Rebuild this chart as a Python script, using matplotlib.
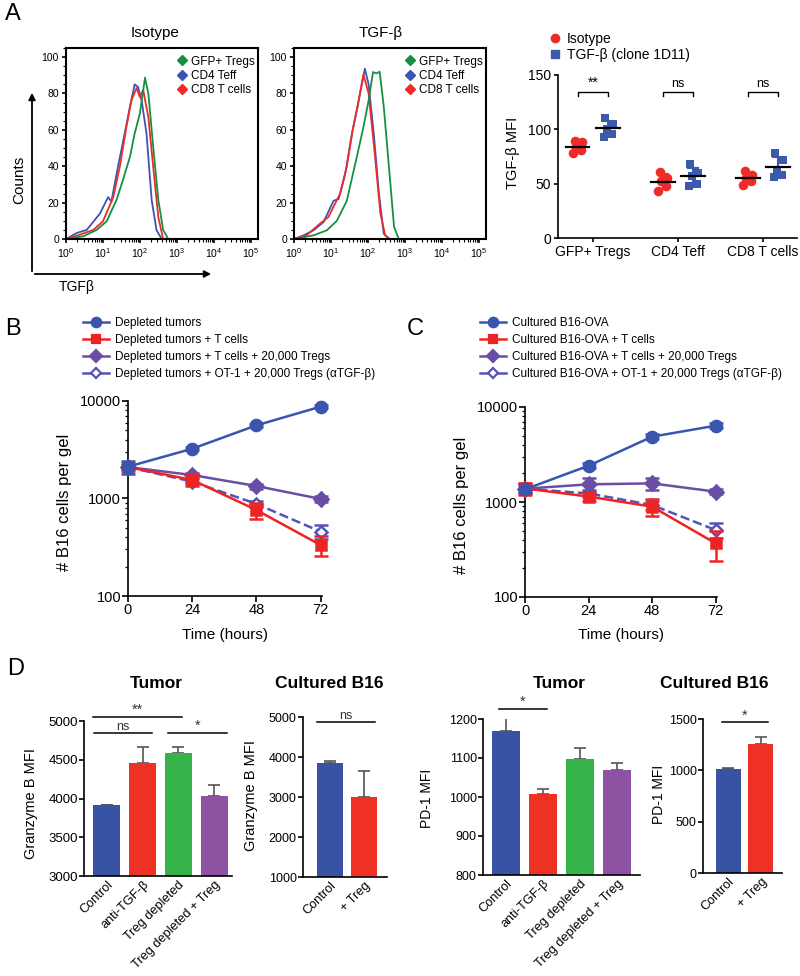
import numpy as np
import matplotlib.pyplot as plt
from matplotlib.lines import Line2D
from matplotlib.patches import FancyArrowPatch
from matplotlib.ticker import LogLocator, MultipleLocator, NullFormatter

plt.rcParams['font.family'] = ['Liberation Sans', 'DejaVu Sans']
plt.rcParams['mathtext.fontset'] = 'custom'
plt.rcParams['mathtext.rm'] = 'Liberation Sans'
plt.rcParams['mathtext.it'] = 'Liberation Sans:italic'
plt.rcParams['axes.linewidth'] = 1.2

# ---------------- data ----------------
# A: TGF-b histograms, x = log10(intensity), y = counts
iso_gfp_x = [0, 0.47, 0.83, 1.1, 1.37, 1.55, 1.73, 1.86, 2.0, 2.14, 2.23, 2.36, 2.5, 2.63, 2.77, 5.2]
iso_gfp_y = [0, 1.5, 5, 9.7, 21.5, 33, 45, 58, 69, 88.7, 80, 51, 21.5, 5, 0, 0]
iso_cd4_x = [0, 0.29, 0.56, 0.92, 1.14, 1.23, 1.41, 1.59, 1.73, 1.86, 1.95, 2.05, 2.18, 2.32, 2.45, 2.59, 5.2]
iso_cd4_y = [0, 3.3, 5, 14, 23, 20.6, 40, 58, 72.6, 85, 83.6, 76, 58, 21.5, 5, 0, 0]
iso_cd8_x = [0, 0, 0.38, 0.74, 1.0, 1.28, 1.46, 1.64, 1.77, 1.91, 2.0, 2.09, 2.23, 2.36, 2.5, 2.63, 5.2]
iso_cd8_y = [100, 0, 2.4, 5, 9.7, 23, 40, 62, 76, 83, 78, 82, 67, 40, 12, 0, 0]

tgf_gfp_x = [0, 0.53, 0.89, 1.16, 1.43, 1.7, 1.88, 2.02, 2.14, 2.23, 2.32, 2.43, 2.57, 2.71, 2.84, 5.2]
tgf_gfp_y = [0, 2, 4.8, 10, 21, 45, 61.5, 76, 91.8, 91, 92, 73, 40, 6.6, 0, 0]
tgf_cd4_x = [0, 0.26, 0.53, 0.8, 1.07, 1.21, 1.39, 1.57, 1.75, 1.92, 2.02, 2.16, 2.3, 2.43, 2.57, 5.2]
tgf_cd4_y = [0, 2, 4.8, 9.3, 21, 22, 36, 58, 76, 93.6, 85, 58, 25, 3, 0, 0]
tgf_cd8_x = [0, 0, 0.34, 0.7, 0.93, 1.11, 1.25, 1.43, 1.59, 1.72, 1.88, 2.02, 2.17, 2.34, 2.47, 2.6, 5.2]
tgf_cd8_y = [100, 0, 2, 8.4, 12, 19.4, 25, 40, 60, 72.5, 90.5, 80, 50.5, 14, 2, 0, 0]

hist_labels = ['GFP+ Tregs', 'CD4 Teff', 'CD8 T cells']

# A: TGF-b MFI per mouse
mfi_groups = ['GFP+ Tregs', 'CD4 Teff', 'CD8 T cells']
iso_mfi = [[78, 81, 84, 88, 89], [43, 48, 52, 55, 61], [49, 52, 55, 58, 62]]
tgfb_mfi = [[93, 96, 100, 105, 110], [48, 50, 57, 60, 68], [56, 58, 63, 72, 78]]
mfi_sig = ['**', 'ns', 'ns']

# B / C: B16 cells per gel over time
time_h = [0, 24, 48, 72]
b_labels = ['Depleted tumors', 'Depleted tumors + T cells',
            'Depleted tumors + T cells + 20,000 Tregs',
            'Depleted tumors + OT-1 + 20,000 Tregs (\u03b1TGF-\u03b2)']
b_means = [[2120, 3240, 5630, 8750], [2100, 1550, 762, 333],
           [2100, 1740, 1343, 990], [2100, 1490, 880, 457]]
b_errs = [[330, 120, 200, 300], [200, 220, 140, 75],
          [100, 100, 80, 60], [100, 80, 70, 75]]
c_labels = ['Cultured B16-OVA', 'Cultured B16-OVA + T cells',
            'Cultured B16-OVA + T cells + 20,000 Tregs',
            'Cultured B16-OVA + OT-1 + 20,000 Tregs (\u03b1TGF-\u03b2)']
c_means = [[1360, 2410, 4870, 6360], [1390, 1140, 893, 367],
           [1380, 1535, 1570, 1285], [1380, 1230, 930, 507]]
c_errs = [[100, 150, 300, 400], [200, 120, 180, 130],
          [150, 250, 220, 80], [150, 100, 100, 90]]

# D: bar charts
tumor_groups = ['Control', 'anti-TGF-\u03b2', 'Treg depleted', 'Treg depleted + Treg']
cult_groups = ['Control', '+ Treg']
gzmb_tumor = [3915, 4460, 4583, 4035]
gzmb_tumor_err = [5, 205, 85, 135]
gzmb_cult = [3860, 3000]
gzmb_cult_err = [30, 640]
pd1_tumor = [1168, 1008, 1098, 1068]
pd1_tumor_err = [42, 12, 27, 20]
pd1_cult = [1013, 1259]
pd1_cult_err = [5, 66]

# ---------------- styles ----------------
GREEN_H = '#16903e'
BLUE_H = '#3b55b4'
RED_H = '#ee2b26'
BLUE = '#3a55b0'
RED = '#ee2424'
PURPLE = '#6a4ea5'
PURPLE2 = '#5653b8'
BAR_COLS = ['#3953a4', '#ee3124', '#36b44a', '#8d52a1']

W, H = 800, 976
fig = plt.figure(figsize=(W / 100, H / 100), dpi=100)


def box(x0, y0, x1, y1):
    # pixel box, origin top-left -> figure fraction rect
    return [x0 / W, 1 - y1 / H, (x1 - x0) / W, (y1 - y0) / H]


def fxy(x, y):
    return x / W, 1 - y / H


def ftext(x, y, s, **kw):
    fig.text(*fxy(x, y), s, ha=kw.pop('ha', 'center'), va=kw.pop('va', 'center'), **kw)


# ---------------- A: histograms ----------------
def hist_panel(rect, curves):
    ax = fig.add_axes(rect)
    for xs, ys, col in curves:
        ax.plot(10 ** np.array(xs, dtype=float), ys, color=col, lw=1.3)
    ax.set_xscale('log')
    ax.set_xlim(1, 10 ** 5.2)
    ax.set_ylim(0, 105)
    ax.set_yticks([0, 20, 40, 60, 80, 100])
    ax.yaxis.set_minor_locator(MultipleLocator(5))
    ax.set_xticks([10 ** k for k in range(6)])
    ax.set_xticklabels([f'$10^{{{k}}}$' for k in range(6)])
    ax.xaxis.set_minor_locator(LogLocator(base=10, subs=np.arange(2, 10)))
    ax.xaxis.set_minor_formatter(NullFormatter())
    ax.tick_params(labelsize=7.5, length=3, width=1.2, pad=2)
    ax.tick_params(which='minor', length=2, width=0.8)
    for sp in ax.spines.values():
        sp.set_linewidth(1.5)
    hands = [Line2D([], [], marker='D', ls='none', color=c, markersize=5.5)
             for c in [GREEN_H, BLUE_H, RED_H]]
    ax.legend(hands, hist_labels, loc='upper left', bbox_to_anchor=(0.555, 0.985),
              frameon=False, fontsize=8.5, handlelength=0.8, handletextpad=0.4,
              labelspacing=0.2, borderaxespad=0)
    return ax


hist_panel(box(66, 48, 258, 239), [(iso_cd4_x, iso_cd4_y, BLUE_H), (iso_cd8_x, iso_cd8_y, RED_H),
                                   (iso_gfp_x, iso_gfp_y, GREEN_H)])
hist_panel(box(294, 48, 486, 239), [(tgf_cd4_x, tgf_cd4_y, BLUE_H), (tgf_cd8_x, tgf_cd8_y, RED_H),
                                    (tgf_gfp_x, tgf_gfp_y, GREEN_H)])
ftext(155, 33, 'Isotype', fontsize=11)
ftext(381, 33, 'TGF-\u03b2', fontsize=11)
ftext(13, 14, 'A', fontsize=17)
ftext(19, 180, 'Counts', fontsize=11, rotation=90)
ftext(77, 287, 'TGF\u03b2', fontsize=10)
for tail, head in [((32, 274), (32, 90)), ((32, 274), (214, 274))]:
    fig.add_artist(FancyArrowPatch(fxy(*tail), fxy(*head), transform=fig.transFigure,
                                   arrowstyle='-|>', mutation_scale=10, lw=1.3, color='k'))

# ---------------- A: TGF-b MFI scatter ----------------
ax = fig.add_axes(box(558, 75, 797, 238))
jit = np.array([-0.05, 0.04, -0.015, 0.055, -0.035])
for i in range(len(mfi_groups)):
    for vals, off, col, mk in [(iso_mfi[i], -0.18, RED_H, 'o'), (tgfb_mfi[i], 0.18, '#3b5aab', 's')]:
        v = np.array(vals, dtype=float)
        xc = i + off
        ax.scatter(xc + jit, v, s=48 if mk == 'o' else 40, marker=mk, color=col, zorder=3,
                   clip_on=False, lw=0)
        m, sd = v.mean(), v.std(ddof=1)
        ax.errorbar(xc, m, yerr=sd, fmt='none', ecolor=col, elinewidth=1.5, capsize=4, capthick=1.5, zorder=2)
        ax.plot([xc - 0.14, xc + 0.14], [m, m], color='k', lw=1.6, zorder=4)
    ax.plot([i - 0.18, i - 0.18, i + 0.18, i + 0.18], [131, 134, 134, 131], color='k', lw=1)
    ax.text(i, 136, mfi_sig[i], ha='center', va='bottom', fontsize=9 if mfi_sig[i] == 'ns' else 10)
ax.set_xlim(-0.41, 2.4)
ax.set_ylim(0, 150)
ax.set_yticks([0, 50, 100, 150])
ax.set_xticks(range(3))
ax.set_xticklabels(mfi_groups)
ax.tick_params(labelsize=10, length=3, width=1.2, pad=2)
ax.spines[['top', 'right']].set_visible(False)
ax.set_ylabel('TGF-\u03b2 MFI', fontsize=10.5)
ax.yaxis.set_label_coords(-0.16, 0.52)
fig.legend([Line2D([], [], marker='o', ls='none', color=RED_H, markersize=6),
            Line2D([], [], marker='s', ls='none', color='#3b5aab', markersize=5.5)],
           ['Isotype', 'TGF-\u03b2 (clone 1D11)'], loc='upper left', bbox_to_anchor=fxy(549, 32),
           frameon=False, fontsize=10, handlelength=0.8, handletextpad=0.5, labelspacing=0.15,
           borderaxespad=0, borderpad=0)


# ---------------- B / C: growth curves ----------------
STYLES = [dict(color=BLUE, marker='o', ms=8, mfc=BLUE, ls='-'),
          dict(color=RED, marker='s', ms=7, mfc=RED, ls='-'),
          dict(color=PURPLE, marker='D', ms=7, mfc=PURPLE, ls='-'),
          dict(color=PURPLE2, marker='D', ms=6.5, mfc='white', ls='--')]


def growth_panel(rect, means, errs, labels, leg_xy, letter_xy, letter):
    ax = fig.add_axes(rect)
    for k in [3, 2, 1, 0]:
        st = STYLES[k]
        ax.errorbar(time_h, means[k], yerr=errs[k], color=st['color'], marker=st['marker'],
                    ms=st['ms'], mfc=st['mfc'], mec=st['color'], mew=1.8, ls=st['ls'], lw=1.8,
                    elinewidth=1.8, capsize=5, capthick=1.8, clip_on=False, zorder=3 + (3 - k))
    ax.set_yscale('log')
    ax.set_ylim(100, 10000)
    ax.set_xlim(0, 72.5)
    ax.set_xticks(time_h)
    ax.set_yticks([100, 1000, 10000])
    ax.set_yticklabels(['100', '1000', '10000'])
    ax.yaxis.set_minor_formatter(NullFormatter())
    ax.tick_params(labelsize=10.5, length=4, width=1.2, pad=1)
    ax.tick_params(which='minor', length=2.5, width=0.9)
    ax.spines[['top', 'right']].set_visible(False)
    ax.set_ylabel('# B16 cells per gel', fontsize=12)
    ax.yaxis.set_label_coords(-0.29, 0.48)
    ax.set_xlabel('Time (hours)', fontsize=11)
    ax.xaxis.set_label_coords(0.5, -0.165)
    hands = [Line2D([], [], color=s['color'], marker=s['marker'], ms=s['ms'] * 0.85, mfc=s['mfc'],
                    mec=s['color'], mew=1.6, ls='-', lw=1.8) for s in STYLES]
    fig.legend(hands, labels, loc='upper left', bbox_to_anchor=fxy(*leg_xy), frameon=False,
               fontsize=8.5, handlelength=2.2, handletextpad=0.5, labelspacing=0.42,
               borderaxespad=0, borderpad=0)
    ftext(*letter_xy, letter, fontsize=17)


growth_panel(box(128, 401, 322, 596), b_means, b_errs, b_labels, (83, 317), (13, 329), 'B')
growth_panel(box(525, 407, 717, 597), c_means, c_errs, c_labels, (480, 317), (415, 329), 'C')


# ---------------- D: bar charts ----------------
def bar_panel(rect, groups, vals, errs, ylim, yticks, ylabel, lab_xy, xlim, title, title_x, sigs, tsize):
    ax = fig.add_axes(rect)
    x = np.arange(len(vals))
    ax.bar(x, vals, width=0.76, color=BAR_COLS[:len(vals)], zorder=2)
    ax.errorbar(x, vals, yerr=[np.zeros(len(vals)), errs], fmt='none', ecolor='#555555',
                elinewidth=1.2, capsize=4, capthick=1.2, zorder=1)
    ax.set_xlim(*xlim)
    ax.set_ylim(*ylim)
    ax.set_yticks(yticks)
    ax.set_xticks(x)
    ax.set_xticklabels(groups, rotation=45, ha='right', rotation_mode='anchor')
    ax.tick_params(axis='y', labelsize=tsize, length=3.5, width=1.2, pad=1)
    ax.tick_params(axis='x', labelsize=9.2, length=0, pad=2)
    ax.spines[['top', 'right']].set_visible(False)
    ax.set_ylabel(ylabel, fontsize=10.5 if len(ylabel) > 10 else 10)
    ax.yaxis.set_label_coords(*lab_xy)
    for x0, x1, yv, s in sigs:
        ax.plot([x0, x1], [yv, yv], color='k', lw=1.1, clip_on=False)
        ax.text((x0 + x1) / 2, yv, s, ha='center', va='bottom', color='#333333',
                fontsize=9 if s == 'ns' else 10.5)
    ftext(title_x, 684, title, fontsize=12.5, fontweight='bold')
    return ax


bar_panel(box(84, 721, 232, 876), tumor_groups, gzmb_tumor, gzmb_tumor_err, (3000, 5000),
          [3000, 3500, 4000, 4500, 5000], 'Granzyme B MFI', (-0.31, 0.47), (-0.64, 3.5),
          'Tumor', 156, [(-0.4, 2.1, 5055, '**'), (-0.35, 1.25, 4850, 'ns'), (1.7, 3.35, 4850, '*')], 9.5)
bar_panel(box(303, 717, 387, 877), cult_groups, gzmb_cult, gzmb_cult_err, (1000, 5000),
          [1000, 2000, 3000, 4000, 5000], 'Granzyme B MFI', (-0.53, 0.51), (-0.79, 1.68),
          'Cultured B16', 329, [(-0.38, 1.32, 4875, 'ns')], 9)
bar_panel(box(483, 719, 640, 875), tumor_groups, pd1_tumor, pd1_tumor_err, (800, 1200),
          [800, 900, 1000, 1100, 1200], 'PD-1 MFI', (-0.31, 0.49), (-0.62, 3.62),
          'Tumor', 559, [(-0.19, 1.11, 1226, '*')], 9)
bar_panel(box(703, 719, 782, 873), cult_groups, pd1_cult, pd1_cult_err, (0, 1500),
          [0, 500, 1000, 1500], 'PD-1 MFI', (-0.47, 0.51), (-0.76, 1.64),
          'Cultured B16', 714, [(-0.18, 1.21, 1467, '*')], 9)
ftext(16, 669, 'D', fontsize=17)

fig.savefig('out.png', dpi=100)
